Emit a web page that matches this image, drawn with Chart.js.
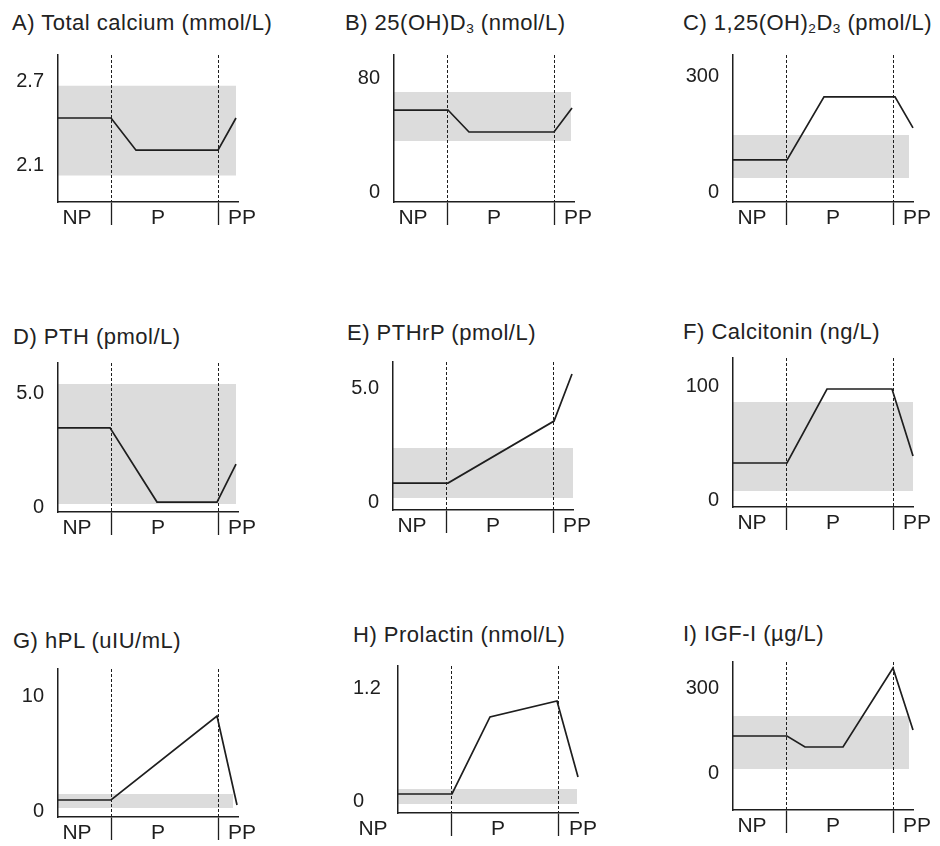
<!DOCTYPE html>
<html>
<head>
<meta charset="utf-8">
<script src="https://cdn.jsdelivr.net/npm/chart.js@4/dist/chart.umd.min.js"></script>
<style>
  html, body { margin: 0; padding: 0; background: #fff; }
  #page { position: relative; width: 940px; height: 846px; overflow: hidden; }
  .title {
    position: absolute;
    font-family: "Liberation Sans", Arial, sans-serif;
    font-size: 22px;
    line-height: 24px;
    letter-spacing: 0.5px;
    color: #222;
    white-space: nowrap;
  }
  .title sub { font-size: 0.62em; vertical-align: -0.22em; line-height: 0; }
  .panel { position: absolute; }
</style>
</head>
<body>
<div id="page"></div>
<script>
// phases along the x axis (NP = non-pregnant, P = pregnant, PP = post-partum)
const phaseLabels = ['NP', 'P', 'PP']
const phaseBounds = [53, 160]

// A) total calcium
const calciumX = [0, 53, 78, 160, 178]
const calciumY = [2.44, 2.44, 2.21, 2.21, 2.44]
const calciumBand = [2.03, 2.67, 178]
const calciumTicks = ['2.1', '2.7']

// B) 25(OH)D3
const vitDX = [0, 54, 75, 160, 178]
const vitDY = [57.7, 57.7, 42.4, 42.4, 59.1]
const vitDBand = [36.2, 70.3, 177]
const vitDTicks = ['0', '80']

// C) 1,25(OH)2D3
const calcitriolX = [0, 54, 91, 162, 180]
const calcitriolY = [83.5, 83.5, 247.8, 247.8, 167]
const calcitriolBand = [36.5, 148.7, 176]
const calcitriolTicks = ['0', '300']

// D) PTH
const pthX = [0, 52, 99, 159, 178]
const pthY = [3.5, 3.5, 0.22, 0.22, 1.9]
const pthBand = [0.13, 5.44, 178]
const pthTicks = ['0', '5.0']

// E) PTHrP
const pthrpX = [0, 55, 161, 179]
const pthrpY = [0.84, 0.84, 3.58, 5.66]
const pthrpBand = [0.18, 2.39, 180]
const pthrpTicks = ['0', '5.0']

// F) calcitonin
const calcitoninX = [0, 54, 94, 159, 180]
const calcitoninY = [33.3, 33.3, 98.2, 98.2, 39.5]
const calcitoninBand = [8.8, 86.8, 180]
const calcitoninTicks = ['0', '100']

// G) hPL
const hplX = [0, 53, 159, 179]
const hplY = [0.96, 0.96, 8.26, 0.52]
const hplBand = [0.26, 1.48, 175]
const hplTicks = ['0', '10']

// H) prolactin
const prolactinX = [0, 54, 92, 159, 180]
const prolactinY = [0.085, 0.085, 0.903, 1.073, 0.265]
const prolactinBand = [-0.021, 0.138, 179]
const prolactinTicks = ['0', '1.2']

// I) IGF-I
const igfX = [0, 54, 72, 110, 160, 180]
const igfY = [130.6, 130.6, 91.8, 91.8, 370.6, 151.8]
const igfBand = [14.1, 201.2, 176]
const igfTicks = ['0', '300']

const panels = [
  { title: 'A) Total calcium (mmol/L)', x: calciumX, y: calciumY, band: calciumBand, ticks: calciumTicks,
    min: 1.84, max: 2.89, left: 58, top: 55, bottom: 202, tl: 12, tc: 23 },
  { title: 'B) 25(OH)D<sub>3</sub> (nmol/L)', x: vitDX, y: vitDY, band: vitDBand, ticks: vitDTicks,
    min: -6.3, max: 96, left: 394, top: 55, bottom: 202, tl: 345, tc: 23 },
  { title: 'C) 1,25(OH)<sub>2</sub>D<sub>3</sub> (pmol/L)', x: calcitriolX, y: calcitriolY, band: calcitriolBand, ticks: calcitriolTicks,
    min: -26, max: 357, left: 733, top: 55, bottom: 202, tl: 683, tc: 23 },
  { title: 'D) PTH (pmol/L)', x: pthX, y: pthY, band: pthBand, ticks: pthTicks,
    min: -0.22, max: 6.37, left: 58, top: 363, bottom: 512, tl: 13, tc: 337 },
  { title: 'E) PTHrP (pmol/L)', x: pthrpX, y: pthrpY, band: pthrpBand, ticks: pthrpTicks,
    min: -0.35, max: 6.19, left: 393, top: 362, bottom: 510, tl: 347, tc: 333 },
  { title: 'F) Calcitonin (ng/L)', x: calcitoninX, y: calcitoninY, band: calcitoninBand, ticks: calcitoninTicks,
    min: -5.3, max: 125.4, left: 733, top: 358, bottom: 507, tl: 683, tc: 332 },
  { title: 'G) hPL (uIU/mL)', x: hplX, y: hplY, band: hplBand, ticks: hplTicks,
    min: -0.52, max: 12.35, left: 58, top: 669, bottom: 817, tl: 13, tc: 641 },
  { title: 'H) Prolactin (nmol/L)', x: prolactinX, y: prolactinY, band: prolactinBand, ticks: prolactinTicks,
    min: -0.117, max: 1.444, left: 398, top: 666, bottom: 813, tl: 353, tc: 635,
    axisW: 45, leftTicks: true, labelPos: [-25, 100, 185] },
  { title: 'I) IGF-I (µg/L)', x: igfX, y: igfY, band: igfBand, ticks: igfTicks,
    min: -130.6, max: 391.8, left: 733, top: 662, bottom: 810, tl: 683, tc: 634 }
]

const FONT = '"Liberation Sans", Arial, sans-serif'
const INK = '#1e1e1e'
const page = document.getElementById('page')

panels.forEach(function (p) {
  const axisW = p.axisW || 60
  const labelPos = p.labelPos || [19, 100, 184]
  const padTop = 10, xAxisH = 40, padRight = 40
  const w = axisW + 180 + padRight
  const h = padTop + (p.bottom - p.top) + xAxisH

  const t = document.createElement('div')
  t.className = 'title'
  t.innerHTML = p.title
  t.style.left = p.tl + 'px'
  t.style.top = (p.tc - 12) + 'px'
  page.appendChild(t)

  const holder = document.createElement('div')
  holder.className = 'panel'
  holder.style.left = (p.left - axisW) + 'px'
  holder.style.top = (p.top - padTop) + 'px'
  const cv = document.createElement('canvas')
  cv.width = w
  cv.height = h
  holder.appendChild(cv)
  page.appendChild(holder)

  // x ticks: three phase labels plus the two phase boundaries
  const xTicks = [labelPos[0], phaseBounds[0], labelPos[1], phaseBounds[1], labelPos[2]]
  const xTexts = [phaseLabels[0], '', phaseLabels[1], '', phaseLabels[2]]
  const isBound = c => c.tick && phaseBounds.includes(c.tick.value)
  const yVals = p.ticks.map(parseFloat)

  new Chart(cv, {
    type: 'line',
    data: {
      datasets: [
        {
          data: p.x.map((v, i) => ({ x: v, y: p.y[i] })),
          borderColor: INK,
          borderWidth: 1.7,
          pointRadius: 0,
          fill: false,
          clip: false,
          order: 0
        },
        {
          data: [{ x: 0, y: p.band[1] }, { x: p.band[2], y: p.band[1] }],
          borderWidth: 0,
          pointRadius: 0,
          backgroundColor: '#dcdcdc',
          fill: { value: p.band[0] },
          order: 1
        }
      ]
    },
    options: {
      responsive: false,
      animation: false,
      devicePixelRatio: 1,
      layout: { padding: { top: padTop, right: padRight, left: 0, bottom: 0 } },
      plugins: { legend: { display: false }, tooltip: { enabled: false } },
      scales: {
        x: {
          type: 'linear',
          min: 0,
          max: 180,
          afterBuildTicks: s => { s.ticks = xTicks.map(v => ({ value: v })) },
          afterFit: s => { s.height = xAxisH; s.paddingLeft = 0; s.paddingRight = 0 },
          ticks: {
            autoSkip: false,
            maxRotation: 0,
            padding: -19,
            color: INK,
            font: { family: FONT, size: 21 },
            callback: (v, i) => xTexts[i]
          },
          grid: {
            color: c => isBound(c) ? INK : 'rgba(0,0,0,0)',
            tickColor: c => isBound(c) ? INK : 'rgba(0,0,0,0)',
            lineWidth: 1,
            tickWidth: 1.3,
            tickLength: 23,
            tickBorderDash: [],
            z: 1
          },
          border: { display: true, color: INK, width: 1.5, dash: [3, 2], z: 1 }
        },
        y: {
          type: 'linear',
          min: p.min,
          max: p.max,
          afterBuildTicks: s => { s.ticks = yVals.map(v => ({ value: v })) },
          afterFit: s => { s.width = axisW; s.paddingTop = 0; s.paddingBottom = 0 },
          ticks: {
            padding: 14,
            color: INK,
            crossAlign: p.leftTicks ? 'far' : 'near',
            font: { family: FONT, size: 20 },
            callback: (v, i) => p.ticks[i]
          },
          grid: { display: false, drawTicks: false },
          border: { display: true, color: INK, width: 1.5, z: 1 }
        }
      }
    }
  })
})
</script>
</body>
</html>
